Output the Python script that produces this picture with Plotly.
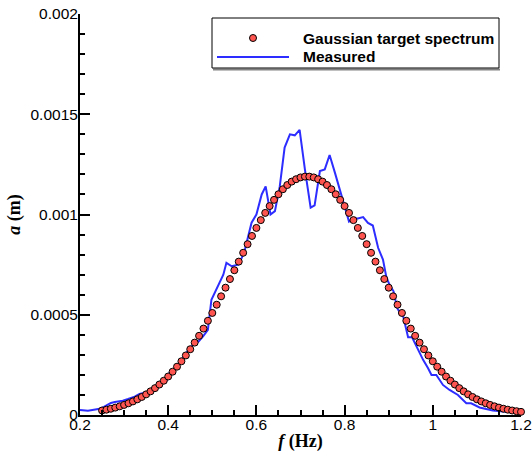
import plotly.graph_objects as go

# ---- data ----
target_f = [0.25, 0.26, 0.27, 0.28, 0.29, 0.30, 0.31, 0.32, 0.33, 0.34,
            0.35, 0.36, 0.37, 0.38, 0.39, 0.40, 0.41, 0.42, 0.43, 0.44,
            0.45, 0.46, 0.47, 0.48, 0.49, 0.50, 0.51, 0.52, 0.53, 0.54,
            0.55, 0.56, 0.57, 0.58, 0.59, 0.60, 0.61, 0.62, 0.63, 0.64,
            0.65, 0.66, 0.67, 0.68, 0.69, 0.70, 0.71, 0.72, 0.73, 0.74,
            0.75, 0.76, 0.77, 0.78, 0.79, 0.80, 0.81, 0.82, 0.83, 0.84,
            0.85, 0.86, 0.87, 0.88, 0.89, 0.90, 0.91, 0.92, 0.93, 0.94,
            0.95, 0.96, 0.97, 0.98, 0.99, 1.00, 1.01, 1.02, 1.03, 1.04,
            1.05, 1.06, 1.07, 1.08, 1.09, 1.10, 1.11, 1.12, 1.13, 1.14,
            1.15, 1.16, 1.17, 1.18, 1.19, 1.20]
target_a = [0.0000224, 0.0000266, 0.0000313, 0.0000368, 0.0000432, 0.0000503, 0.0000585, 0.0000678, 0.0000782, 0.0000899,
            0.000103, 0.000118, 0.000134, 0.000152, 0.000171, 0.000192, 0.000216, 0.000241, 0.000268, 0.000297,
            0.000328, 0.000361, 0.000395, 0.000431, 0.000470, 0.000509, 0.000550, 0.000592, 0.000635, 0.000678,
            0.000722, 0.000765, 0.000809, 0.000852, 0.000893, 0.000933, 0.000972, 0.001008, 0.001042, 0.001073,
            0.001101, 0.001126, 0.001147, 0.001164, 0.001176, 0.001185, 0.001189, 0.001189, 0.001185, 0.001176,
            0.001164, 0.001147, 0.001126, 0.001101, 0.001073, 0.001042, 0.001008, 0.000972, 0.000933, 0.000893,
            0.000852, 0.000809, 0.000765, 0.000722, 0.000678, 0.000635, 0.000592, 0.000550, 0.000509, 0.000470,
            0.000431, 0.000395, 0.000361, 0.000328, 0.000297, 0.000268, 0.000241, 0.000216, 0.000192, 0.000171,
            0.000152, 0.000134, 0.000118, 0.000103, 0.0000899, 0.0000782, 0.0000678, 0.0000585, 0.0000503, 0.0000432,
            0.0000368, 0.0000313, 0.0000266, 0.0000224, 0.0000189, 0.0000158]

measured_f = [0.200, 0.218, 0.248, 0.259, 0.270, 0.279, 0.297, 0.309, 0.324, 0.335,
              0.347, 0.356, 0.366, 0.377, 0.388, 0.396, 0.402, 0.413, 0.427, 0.438,
              0.449, 0.460, 0.469, 0.479, 0.490, 0.498, 0.513, 0.525, 0.532, 0.544,
              0.559, 0.567, 0.574, 0.589, 0.600, 0.612, 0.621, 0.632, 0.642, 0.653,
              0.664, 0.676, 0.687, 0.698, 0.710, 0.723, 0.732, 0.744, 0.755, 0.766,
              0.778, 0.789, 0.800, 0.810, 0.819, 0.830, 0.842, 0.853, 0.864, 0.876,
              0.887, 0.895, 0.902, 0.911, 0.919, 0.926, 0.932, 0.938, 0.944, 0.953,
              0.966, 0.978, 0.989, 0.997, 1.008, 1.023, 1.038, 1.057, 1.076, 1.087,
              1.106, 1.136, 1.166, 1.197]
measured_a = [0.000025, 0.0000215, 0.0000325, 0.000045, 0.00006, 0.000065, 0.0000715, 0.00008, 0.0000915, 0.000105,
              0.0001135, 0.0001165, 0.000135, 0.00015, 0.000165, 0.00017, 0.000208, 0.000228, 0.000265, 0.0003,
              0.000335, 0.000355, 0.000367, 0.000392, 0.000425, 0.000575, 0.000642, 0.0007, 0.000759, 0.000742,
              0.00075, 0.000785, 0.000825, 0.000959, 0.001, 0.0011, 0.00114, 0.001, 0.001017, 0.00114,
              0.001334, 0.0014, 0.001395, 0.001422, 0.001225, 0.001034, 0.001045, 0.001217, 0.001225, 0.001297,
              0.001209, 0.001125, 0.001042, 0.000965, 0.00098, 0.00098, 0.000987, 0.000958, 0.000945, 0.000834,
              0.000775, 0.000684, 0.00065, 0.000617, 0.000534, 0.000509, 0.0005, 0.000442, 0.000388, 0.000388,
              0.000325, 0.000275, 0.000234, 0.0002, 0.0002, 0.00015, 0.000125, 0.0001, 0.0000585, 0.0000585,
              0.0000375, 0.0000225, 0.0000165, 0.0000125]

x_tickvals = [0.2, 0.4, 0.6, 0.8, 1.0, 1.2]
x_ticktext = ["0.2", "0.4", "0.6", "0.8", "1", "1.2"]
y_tickvals = [0, 0.0005, 0.001, 0.0015, 0.002]
y_ticktext = ["0", "0.0005", "0.001", "0.0015", "0.002"]

series_names = ["Gaussian target spectrum", "Measured"]

# ---- styles ----
BLUE = "rgb(45,45,255)"
RED = "rgb(255,85,80)"
TICKFONT = dict(family="Liberation Sans, Arial, sans-serif", size=15.5, color="black")
TITLEFONT = dict(family="Liberation Serif, Times New Roman, serif", size=18, color="black")

fig = go.Figure()
fig.add_trace(go.Scatter(
    x=measured_f, y=measured_a, mode="lines", name=series_names[1],
    line=dict(color=BLUE, width=2), showlegend=False))
fig.add_trace(go.Scatter(
    x=target_f, y=target_a, mode="markers", name=series_names[0],
    marker=dict(color=RED, size=7, line=dict(color="black", width=1)),
    cliponaxis=False, showlegend=False))

axis_common = dict(
    showline=True, linecolor="black", linewidth=2, mirror=False,
    showgrid=False, zeroline=False, ticks="inside", tickcolor="black",
    tickwidth=2, ticklen=10, tickfont=TICKFONT, tickmode="array",
    ticklabeloverflow="allow")

fig.update_xaxes(
    range=[0.2, 1.2], tickvals=x_tickvals, ticktext=x_ticktext,
    ticklabelstandoff=-6,
    minor=dict(tickmode="linear", tick0=0.2, dtick=0.05, ticks="inside",
               ticklen=5, tickwidth=1.5, tickcolor="black"),
    title=dict(text="<b><i>f</i> (Hz)</b>", font=TITLEFONT, standoff=3),
    **axis_common)
fig.update_yaxes(
    range=[0, 0.002], tickvals=y_tickvals, ticktext=y_ticktext,
    ticklabelstandoff=-3,
    minor=dict(tickmode="linear", tick0=0, dtick=0.0001, ticks="inside",
               ticklen=5, tickwidth=1.5, tickcolor="black"),
    title=dict(text="<b><i>a</i> (m)</b>", font=TITLEFONT, standoff=5),
    **axis_common)

# ---- manual legend (pixel -> paper conversion: plot area 80..521 x, 14..415 y) ----
PW, PH = 441.0, 401.0
def px(x):
    return (x - 80) / PW
def py(y):
    return (415 - y) / PH

shapes = [
    dict(type="line", xref="paper", yref="paper", x0=px(213), x1=px(500), y0=py(69.5), y1=py(69.5),
         line=dict(color="rgb(130,130,130)", width=2)),
    dict(type="rect", xref="paper", yref="paper", x0=px(212), x1=px(499), y0=py(68), y1=py(18),
         line=dict(color="black", width=1), fillcolor="white"),
    dict(type="line", xref="paper", yref="paper", x0=px(217), x1=px(289), y0=py(57), y1=py(57),
         line=dict(color=BLUE, width=2)),
    dict(type="circle", xref="paper", yref="paper", xsizemode="pixel", ysizemode="pixel",
         xanchor=px(253), yanchor=py(38), x0=-3.5, x1=3.5, y0=-3.5, y1=3.5,
         fillcolor=RED, line=dict(color="black", width=1)),
]
legfont = dict(family="Liberation Sans, Arial, sans-serif", size=15.5, color="black")
annotations = [
    dict(xref="paper", yref="paper", x=px(301), y=py(38), xanchor="left", yanchor="middle",
         text="<b>" + series_names[0] + "</b>", showarrow=False, font=legfont),
    dict(xref="paper", yref="paper", x=px(301), y=py(57), xanchor="left", yanchor="middle",
         text="<b>" + series_names[1] + "</b>", showarrow=False, font=legfont),
]

fig.update_layout(
    width=532, height=457,
    margin=dict(l=80, r=11, t=14, b=42, autoexpand=False),
    paper_bgcolor="white", plot_bgcolor="white",
    shapes=shapes, annotations=annotations, showlegend=False)

# remove the default 8px page margin so the figure fills the window exactly
fig.write_html("out.html",
               config={"displayModeBar": False},
               post_script="document.body.style.margin='0px';document.body.style.overflow='hidden';")
